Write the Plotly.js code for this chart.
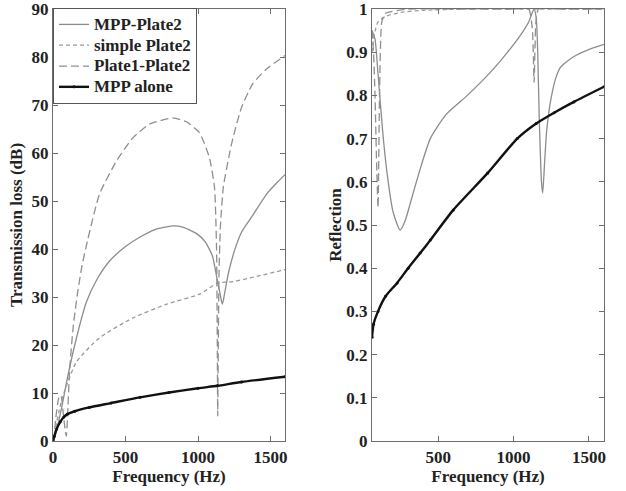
<!DOCTYPE html>
<html>
<head>
<meta charset="utf-8">
<script src="https://cdn.plot.ly/plotly-3.0.1.min.js"></script>
<style>html,body{margin:0;padding:0;background:#fff;}#chart{width:626px;height:491px;}</style>
</head>
<body>
<div id="chart"></div>
<script>
// ---- Left panel: Transmission loss (dB) ----
var tlMppPlate2F = [0, 30, 60, 92, 150, 231, 300, 390, 500, 600, 700, 826, 900, 1000, 1050, 1100, 1130, 1150, 1168, 1185, 1210, 1250, 1300, 1377, 1472, 1550, 1600];
var tlMppPlate2V = [0, 3, 7, 12, 20, 29, 33.5, 37.5, 40.5, 42.5, 44, 44.8, 44.5, 43, 41.5, 38.5, 34, 31, 28.5, 31, 35, 39.5, 43.5, 47, 51.4, 54, 55.5];

var tlSimpleF = [0, 20, 40, 60, 93, 162, 321, 549, 783, 1011, 1134, 1240, 1600];
var tlSimpleV = [0, 3, 6, 8.5, 11.5, 16.5, 21.5, 25.6, 28.5, 30.6, 32.9, 33.2, 35.7];

var tlP1P2F = [5, 20, 40, 55, 70, 85, 92, 100, 115, 140, 170, 200, 240, 320, 437, 549, 665, 826, 920, 1011, 1079, 1114, 1128, 1133, 1136, 1140, 1145, 1155, 1175, 1217, 1240, 1300, 1377, 1472, 1600];
var tlP1P2V = [0, 5, 9, 9.5, 6, 2, 1, 5, 15, 24, 31, 36.5, 42, 51.4, 58.3, 63.1, 66, 67.3, 66.5, 64.2, 59, 52.8, 40, 20, 5.2, 20, 35, 45, 53, 59.8, 63, 69.5, 74.4, 77.5, 80.3];

var tlMppAloneF = [0, 10, 25, 50, 75, 100, 150, 250, 400, 600, 800, 1000, 1134, 1300, 1600];
var tlMppAloneV = [0, 1, 2.5, 4, 5, 5.6, 6.2, 7, 7.9, 9.1, 10.1, 11, 11.5, 12.3, 13.4];

// ---- Right panel: Reflection ----
var rMppPlate2F = [60, 80, 100, 130, 160, 200, 247, 280, 330, 380, 447, 550, 693, 850, 960, 1047, 1100, 1135, 1150, 1160, 1170, 1185, 1193, 1205, 1220, 1247, 1280, 1313, 1400, 1491, 1600];
var rMppPlate2V = [0.95, 0.93, 0.85, 0.72, 0.62, 0.53, 0.488, 0.51, 0.57, 0.63, 0.70, 0.755, 0.80, 0.855, 0.90, 0.94, 0.97, 1.0, 0.98, 0.9, 0.75, 0.6, 0.574, 0.64, 0.72, 0.79, 0.84, 0.866, 0.89, 0.905, 0.918];

var rSimpleF = [60, 70, 85, 100, 150, 250, 400, 700, 1000, 1600];
var rSimpleV = [0.9, 0.93, 0.955, 0.97, 0.983, 0.992, 0.997, 1.0, 1.0, 1.0];

var rP1P2F = [60, 70, 80, 90, 100, 110, 125, 150, 300, 600, 1000, 1100, 1125, 1136, 1148, 1165, 1300, 1600];
var rP1P2V = [0.95, 0.9, 0.8, 0.65, 0.54, 0.8, 0.97, 0.99, 1.0, 1.0, 1.0, 1.0, 0.95, 0.83, 0.97, 1.0, 1.0, 1.0];

var rMppAloneF = [60, 70, 100, 150, 227, 300, 380, 447, 600, 827, 1024, 1150, 1269, 1400, 1600];
var rMppAloneV = [0.24, 0.27, 0.30, 0.335, 0.366, 0.40, 0.435, 0.465, 0.535, 0.62, 0.70, 0.735, 0.76, 0.785, 0.82];

var names = ['MPP-Plate2', 'simple Plate2', 'Plate1-Plate2', 'MPP alone'];
var xTickVals = [0, 500, 1000, 1500];
var tlTickVals = [0, 10, 20, 30, 40, 50, 60, 70, 80, 90];
var rTickVals = [0, 0.1, 0.2, 0.3, 0.4, 0.5, 0.6, 0.7, 0.8, 0.9, 1];

var FONT = 'Liberation Serif, Times New Roman, serif';
var solidStyle = {color: '#8c8c8c', width: 1.3, shape: 'spline', smoothing: 0.6};
var simpleStyle = {color: '#9a9a9a', width: 1.3, dash: '4px,3px', shape: 'spline', smoothing: 0.6};
var p1p2Style = {color: '#8f8f8f', width: 1.3, dash: '8px,4px', shape: 'spline', smoothing: 0.5};
var aloneStyle = {color: '#111111', width: 2.4, shape: 'spline', smoothing: 0.6};

// legend labels rendered larger than the legend's row height font
function lg(s) { return '<span style="font-size:17px">' + s + '</span>'; }

var traces = [
  {x: tlMppPlate2F, y: tlMppPlate2V, name: lg(names[0]), mode: 'lines', line: solidStyle, xaxis: 'x', yaxis: 'y', legendgroup: 'a'},
  {x: tlSimpleF, y: tlSimpleV, name: lg(names[1]), mode: 'lines', line: simpleStyle, xaxis: 'x', yaxis: 'y', legendgroup: 'b'},
  {x: tlP1P2F, y: tlP1P2V, name: lg(names[2]), mode: 'lines', line: p1p2Style, xaxis: 'x', yaxis: 'y', legendgroup: 'c'},
  {x: tlMppAloneF, y: tlMppAloneV, name: lg(names[3]), mode: 'lines+markers', line: aloneStyle, marker: {size: 3, color: '#111'}, xaxis: 'x', yaxis: 'y', legendgroup: 'd'},
  {x: rMppPlate2F, y: rMppPlate2V, name: names[0], mode: 'lines', line: solidStyle, xaxis: 'x2', yaxis: 'y2', showlegend: false, legendgroup: 'a'},
  {x: rSimpleF, y: rSimpleV, name: names[1], mode: 'lines', line: simpleStyle, xaxis: 'x2', yaxis: 'y2', showlegend: false, legendgroup: 'b'},
  {x: rP1P2F, y: rP1P2V, name: names[2], mode: 'lines', line: p1p2Style, xaxis: 'x2', yaxis: 'y2', showlegend: false, legendgroup: 'c'},
  {x: rMppAloneF, y: rMppAloneV, name: names[3], mode: 'lines+markers', line: aloneStyle, marker: {size: 3, color: '#111'}, xaxis: 'x2', yaxis: 'y2', showlegend: false, legendgroup: 'd'}
];

var W = 626, H = 491;
var textFont = {family: FONT, size: 17, color: '#222', weight: 'bold'};
function axisBase() {
  return {
    showgrid: false, zeroline: false, showline: true, linecolor: '#6e6e6e', linewidth: 1.2,
    mirror: 'ticks', ticks: 'inside', ticklen: 5, tickcolor: '#6e6e6e', tickwidth: 1,
    tickfont: textFont, automargin: false, ticklabeloverflow: 'allow'
  };
}
var xa = axisBase();
Object.assign(xa, {domain: [53 / W, 285 / W], range: [0, 1600], tickvals: xTickVals, anchor: 'y',
  title: {text: 'Frequency (Hz)', font: textFont, standoff: 0}});
var ya = axisBase();
Object.assign(ya, {domain: [1 - 441 / H, 1 - 9 / H], range: [0, 90], tickvals: tlTickVals, anchor: 'x',
  title: {text: 'Transmission loss (dB)', font: textFont, standoff: 4}});
var xa2 = axisBase();
Object.assign(xa2, {domain: [372 / W, 604 / W], range: [60, 1600], tickvals: xTickVals, anchor: 'y2',
  title: {text: 'Frequency (Hz)', font: textFont, standoff: 0}});
var ya2 = axisBase();
Object.assign(ya2, {domain: [1 - 441 / H, 1 - 9 / H], range: [0, 1], tickvals: rTickVals, anchor: 'x2',
  title: {text: 'Reflection', font: textFont, standoff: 0}});

var layout = {
  width: W, height: H,
  margin: {l: 0, r: 0, t: 0, b: 0},
  paper_bgcolor: '#ffffff', plot_bgcolor: '#ffffff',
  font: textFont,
  showlegend: true,
  legend: {x: 53 / W, y: 1 - 8 / H, xanchor: 'left', yanchor: 'top', bgcolor: '#ffffff',
    bordercolor: '#555', borderwidth: 1,
    font: {family: FONT, size: 13.7, color: '#222', weight: 'bold'},
    tracegroupgap: 0, itemwidth: 30},
  xaxis: xa, yaxis: ya, xaxis2: xa2, yaxis2: ya2
};

Plotly.newPlot('chart', traces, layout, {staticPlot: true, displayModeBar: false});
</script>
</body>
</html>
